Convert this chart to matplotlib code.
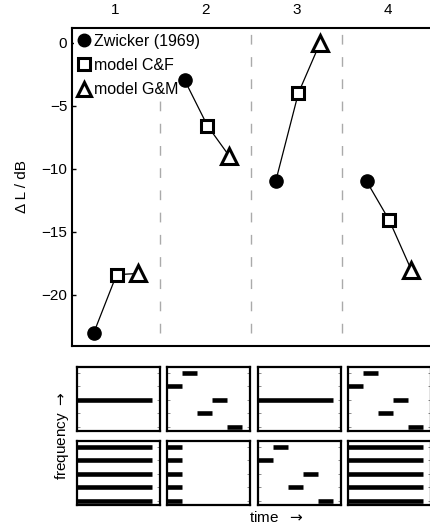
import matplotlib
matplotlib.use("Agg")
import matplotlib.pyplot as plt
from matplotlib.lines import Line2D

plt.rcParams['font.family'] = ['Liberation Sans', 'DejaVu Sans']
plt.rcParams['font.size'] = 11

# stimulus conditions 1..4
conditions = [1, 2, 3, 4]
zwicker = [-23.0, -3.0, -11.0, -11.0]        # Zwicker (1969)
model_cf = [-18.4, -6.6, -4.0, -14.1]        # model C&F
model_gm = [-18.3, -9.0, 0.0, -18.0]         # model G&M
offsets = [-0.23, 0.02, 0.26]                 # circle, square, triangle
yticks = [0, -5, -10, -15, -20]

# schematic stimuli: (frequency level, t start, t end)
steady = [(3, 0, 5)]
sweep = [(4, 0, 1), (5, 1, 2), (2, 2, 3), (3, 3, 4), (1, 4, 5)]
complex_tone = [(1, 0, 5), (2, 0, 5), (3, 0, 5), (4, 0, 5), (5, 0, 5)]
onset = [(1, 0, 1), (2, 0, 1), (3, 0, 1), (4, 0, 1), (5, 0, 1)]
top_row = [steady, sweep, steady, sweep]
bottom_row = [complex_tone, onset, sweep, complex_tone]
levels = [1, 2, 3, 4, 5]

W, H = 430, 526
fig = plt.figure(figsize=(W / 100, H / 100), dpi=100)

# main panel
ax = fig.add_axes([72 / W, 1 - 346 / H, 361 / W, 318 / H])
for i, c in enumerate(conditions):
    xs = [c + o for o in offsets]
    ys = [zwicker[i], model_cf[i], model_gm[i]]
    ax.plot(xs, ys, color='black', lw=0.9, zorder=2)
    ax.plot(xs[0], ys[0], 'o', ms=9.5, mfc='black', mec='black', zorder=3)
    ax.plot(xs[1], ys[1], 's', ms=8.5, mfc='white', mec='black', mew=2.2, zorder=3)
    ax.plot(xs[2], ys[2], '^', ms=11, mfc='white', mec='black', mew=2.2, zorder=3)
for c in conditions[:-1]:
    ax.vlines(c + 0.5, -23, 1.15, colors='#aaaaaa', lw=1.0,
              linestyles=(0, (7, 9)), zorder=1)

ax.set_xlim(0.53, 4.5)
ax.set_ylim(-24.05, 1.15)
ax.set_xticks(conditions)
ax.xaxis.tick_top()
ax.tick_params(axis='x', length=0, pad=8)
ax.set_yticks(yticks)
ax.set_yticklabels([str(v).replace('-', '\u2212') for v in yticks])
ax.tick_params(axis='y', direction='in', length=3, width=1)
for s in ax.spines.values():
    s.set_linewidth(1.5)
fig.text(22 / W, 1 - 187 / H, '\u0394 L / dB', rotation=90,
         ha='center', va='center')

handles = [
    Line2D([], [], ls='none', marker='o', ms=9, mfc='black', mec='black'),
    Line2D([], [], ls='none', marker='s', ms=8, mfc='white', mec='black', mew=2.2),
    Line2D([], [], ls='none', marker='^', ms=10.5, mfc='white', mec='black', mew=2.2),
]
leg = ax.legend(handles, ['Zwicker (1969)', 'model C&F', 'model G&M'],
                loc='upper left', bbox_to_anchor=(0.0, 1.0), frameon=True,
                handlelength=0.8, handletextpad=0.25, labelspacing=0.58,
                borderpad=0.2, borderaxespad=0.15, fontsize=11.5)
leg.get_frame().set_edgecolor('none')
leg.get_frame().set_facecolor('white')
leg.get_frame().set_alpha(1)
leg.set_zorder(1.5)

# stimulus schematics
lefts = [77, 167, 258, 348]
for row, (top_px, bars_row) in enumerate([(431, top_row), (505, bottom_row)]):
    for j, bars in enumerate(bars_row):
        sa = fig.add_axes([lefts[j] / W, 1 - top_px / H, 83 / W, 64 / H])
        for lev, t0, t1 in bars:
            sa.plot([t0, t1], [lev, lev], color='black', lw=3.3,
                    solid_capstyle='butt')
        sa.set_xlim(0, 5.5)
        sa.set_ylim(0.7, 5.44)
        sa.set_xticks([])
        sa.set_yticks(levels)
        sa.set_yticklabels([])
        sa.tick_params(axis='y', left=True, right=True, direction='in',
                       length=2, width=0.7, color='0.55')
        for s in sa.spines.values():
            s.set_linewidth(1.6)

fig.text(62 / W, 1 - 436 / H, r'frequency $\rightarrow$', rotation=90,
         ha='center', va='center')
fig.text(276 / W, 1 - 517 / H, r'time  $\rightarrow$', ha='center', va='center')

fig.savefig('out.png', dpi=100)
